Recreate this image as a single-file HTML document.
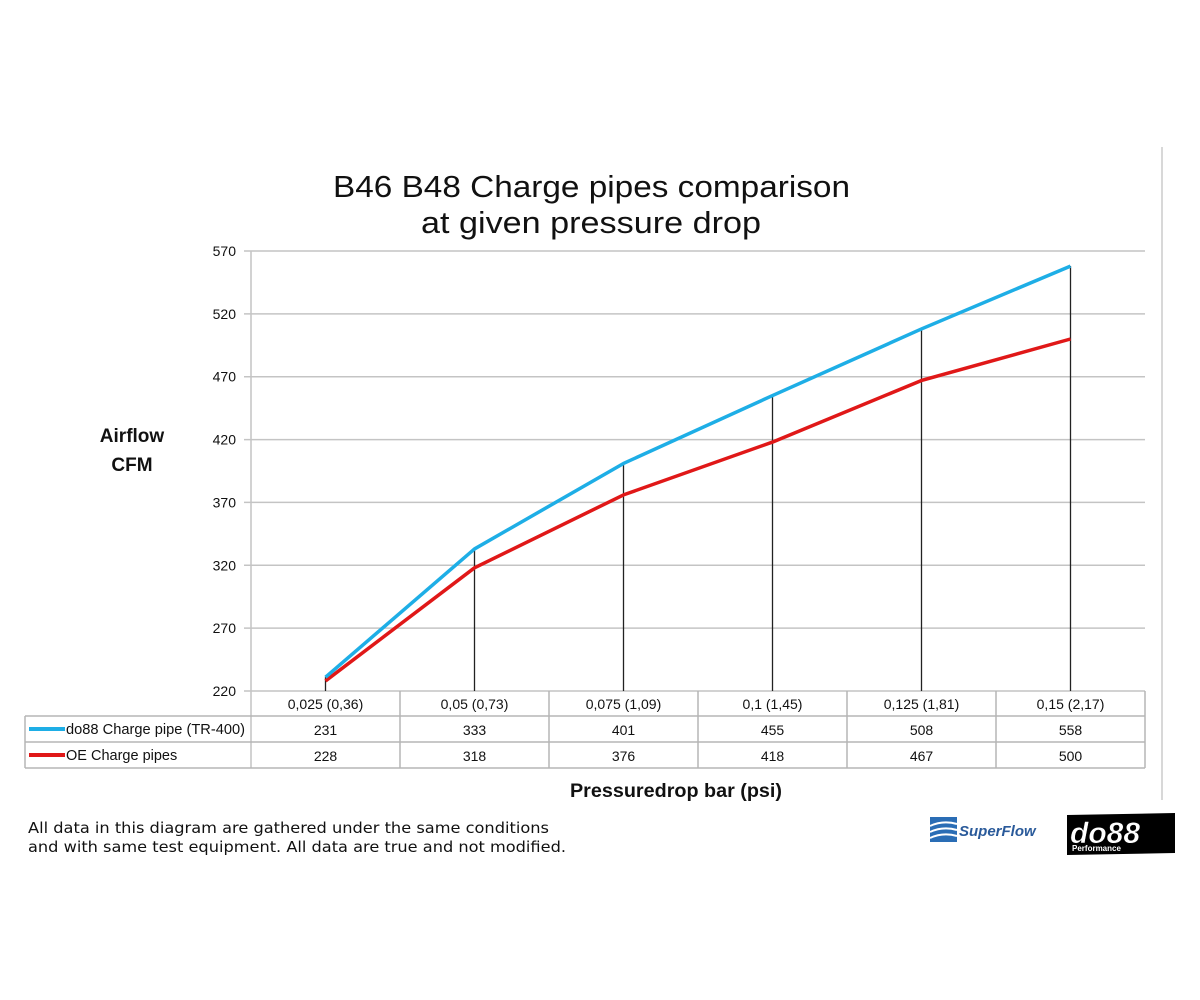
<!DOCTYPE html>
<html><head><meta charset="utf-8"><style>
html,body{margin:0;padding:0;background:#fff;}
svg{display:block;font-family:"Liberation Sans",sans-serif;}
</style></head><body>
<svg id="chart" width="1200" height="1000" viewBox="0 0 1200 1000">
<line x1="1162" y1="147" x2="1162" y2="800" stroke="#ccc" stroke-width="1.5"/>
<text x="333" y="197" font-size="31" textLength="517" lengthAdjust="spacingAndGlyphs" fill="#111">B46 B48 Charge pipes comparison</text>
<text x="421" y="233" font-size="31" textLength="340" lengthAdjust="spacingAndGlyphs" fill="#111">at given pressure drop</text>
<text x="132" y="442" font-size="19" font-weight="bold" text-anchor="middle" fill="#111">Airflow</text>
<text x="132" y="471" font-size="19" font-weight="bold" text-anchor="middle" fill="#111">CFM</text>
<text x="570" y="797" font-size="19" font-weight="bold" textLength="212" lengthAdjust="spacingAndGlyphs" fill="#111">Pressuredrop bar (psi)</text>
<text x="28" y="833" font-size="15" textLength="521" lengthAdjust="spacingAndGlyphs" fill="#111" style="font-family:'DejaVu Sans',sans-serif">All data in this diagram are gathered under the same conditions</text>
<text x="28" y="852" font-size="15" textLength="538" lengthAdjust="spacingAndGlyphs" fill="#111" style="font-family:'DejaVu Sans',sans-serif">and with same test equipment. All data are true and not modified.</text>
<g>
<rect x="930" y="817" width="27" height="25" fill="#2a6db5"/>
<path d="M930 826 q13 -6 27 -2 M930 832 q13 -6 27 -2 M930 838 q13 -6 27 -2" stroke="#fff" stroke-width="2" fill="none"/>
<text x="959" y="836" font-size="15" font-weight="bold" font-style="italic" fill="#2a5a9a">SuperFlow</text>
</g>
<g>
<polygon points="1067,815 1175,813 1175,853 1067,855" fill="#000"/>
<text x="1070" y="843" font-size="30" font-weight="bold" font-style="italic" fill="#fff" stroke="#000" stroke-width="0.5">do88</text>
<text x="1072" y="851" font-size="8" font-weight="bold" fill="#fff">Performance</text>
</g>
<g id="plot"></g>
</svg>
<script>
const categories = ["0,025 (0,36)","0,05 (0,73)","0,075 (1,09)","0,1 (1,45)","0,125 (1,81)","0,15 (2,17)"];
const do88Values = [231,333,401,455,508,558];
const oeValues = [228,318,376,418,467,500];
const yTicks = [220,270,320,370,420,470,520,570];
const seriesNames = ["do88 Charge pipe (TR-400)","OE Charge pipes"];

const NS="http://www.w3.org/2000/svg";
const g=document.getElementById('plot');
const X0=251,X1=1145,Y0=691,Y1=251,YMIN=220,YMAX=570;
const colW=(X1-X0)/categories.length;
function xPos(i){return X0+colW*(i+0.5);}
function yPos(v){return Y0-(v-YMIN)/(YMAX-YMIN)*(Y0-Y1);}
function mk(tag,attrs){const e=document.createElementNS(NS,tag);for(const k in attrs)e.setAttribute(k,attrs[k]);g.appendChild(e);return e;}

yTicks.forEach(t=>{
  const l=mk('line',{x1:244,x2:X1,y1:yPos(t),y2:yPos(t),stroke:'#c4c4c4','stroke-width':1.5});
  
  
  const tx=mk('text',{x:236,y:yPos(t)+5,'font-size':14,'text-anchor':'end',fill:'#111'});
  tx.textContent=t;
  
  
});
const ax=mk('line',{x1:X0,x2:X0,y1:Y1,y2:768,stroke:'#c4c4c4','stroke-width':1.5});



[716,742,768].forEach(y=>{
  const l=mk('line',{x1:25,x2:X1,y1:y,y2:y,stroke:'#b5b5b5','stroke-width':1.5});
  
  
});
const lb=mk('line',{x1:25,x2:25,y1:716,y2:768,stroke:'#b5b5b5','stroke-width':1.5});


for(let i=1;i<=categories.length;i++){
  const l=mk('line',{x1:X0+colW*i,x2:X0+colW*i,y1:Y0,y2:768,stroke:'#b5b5b5','stroke-width':1.5});
  
  
}
categories.forEach((c,i)=>{
  const t=mk('text',{x:xPos(i),y:709,'font-size':14,'text-anchor':'middle',fill:'#111'});
  t.textContent=c;
  
  
  const a=mk('text',{x:xPos(i),y:735,'font-size':14,'text-anchor':'middle',fill:'#111'});
  a.textContent=do88Values[i];
  
  
  const b=mk('text',{x:xPos(i),y:761,'font-size':14,'text-anchor':'middle',fill:'#111'});
  b.textContent=oeValues[i];
  
  
});
const colors=['#1eaee6','#e01818'];
seriesNames.forEach((n,k)=>{
  const y=k===0?729:755;
  const l=mk('line',{x1:29,x2:65,y1:y,y2:y,stroke:colors[k],'stroke-width':4});
  
  
  const attrs={x:66,y:y+5,'font-size':14.5,fill:'#111'};
  if(k===0){attrs.textLength=179;attrs.lengthAdjust='spacingAndGlyphs';}
  const t=mk('text',attrs);
  t.textContent=n;
  
  
});

categories.forEach((c,i)=>{
  const top=Math.max(do88Values[i],oeValues[i]);
  const l=mk('line',{x1:xPos(i),x2:xPos(i),y1:yPos(top),y2:Y0,stroke:'#222','stroke-width':1.3});
  
  
});
[[oeValues,'oe-series-line',colors[1]],[do88Values,'do88-series-line',colors[0]]].forEach(s=>{
  const pts=s[0].map((v,i)=>xPos(i)+','+yPos(v)).join(' ');
  const p=mk('polyline',{points:pts,fill:'none',stroke:s[2],'stroke-width':3.5,'stroke-linejoin':'round'});
  
  
});
</script>
</body></html>
